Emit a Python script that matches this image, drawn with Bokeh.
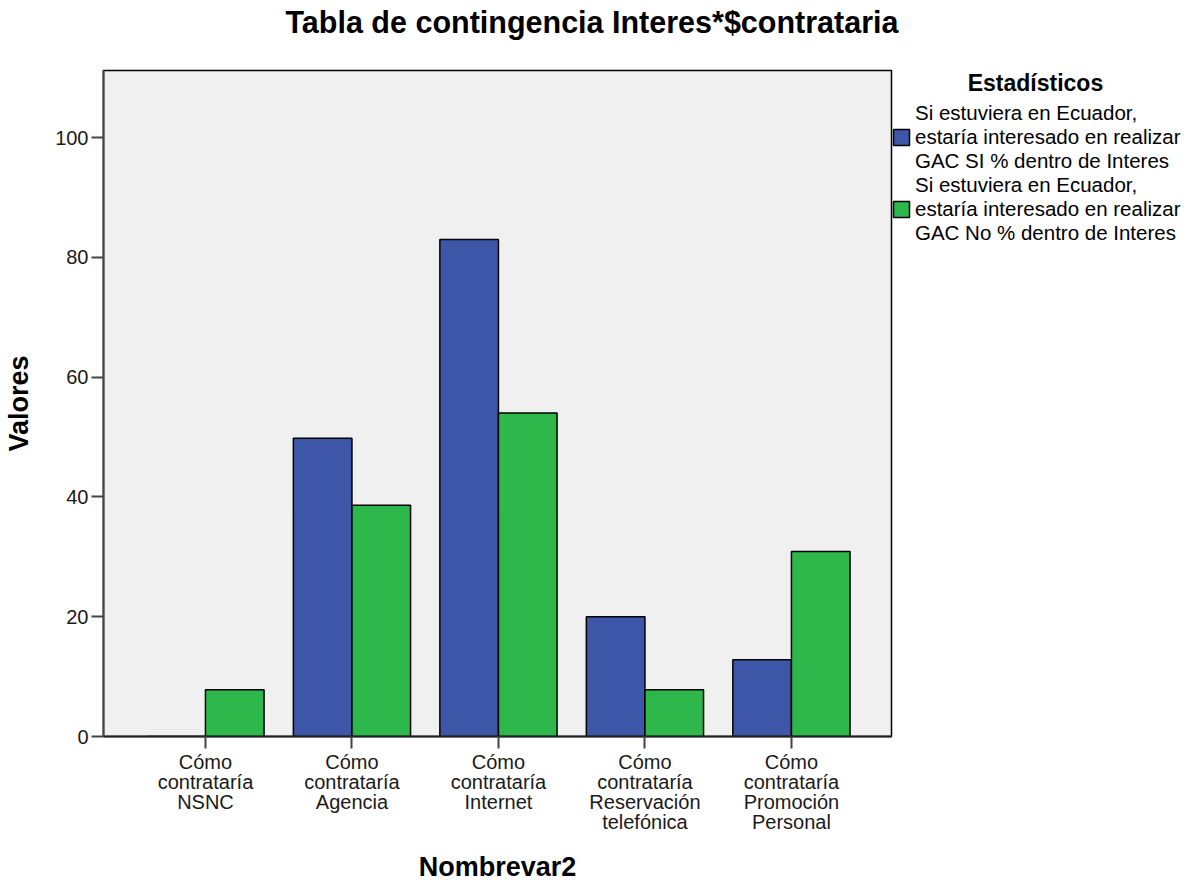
from bokeh.plotting import figure
from bokeh.models import Range1d, FixedTicker, Legend, LegendItem, ColumnDataSource, Title
from bokeh.transform import dodge
from bokeh.embed import file_html
from bokeh.resources import INLINE

categories = ["Cómo\ncontrataría\nNSNC",
              "Cómo\ncontrataría\nAgencia",
              "Cómo\ncontrataría\nInternet",
              "Cómo\ncontrataría\nReservación\ntelefónica",
              "Cómo\ncontrataría\nPromoción\nPersonal"]
si_values = [0.0, 49.8, 83.0, 20.0, 12.8]
no_values = [7.8, 38.6, 54.0, 7.8, 30.9]
series_names = ["Si estuviera en Ecuador,\nestaría interesado en realizar\nGAC SI % dentro de Interes",
                "Si estuviera en Ecuador,\nestaría interesado en realizar\nGAC No % dentro de Interes"]
legend_title = "Estadísticos"
y_ticks = [0, 20, 40, 60, 80, 100]

idx = list(range(len(categories)))
src = ColumnDataSource(dict(x=idx, si=si_values, no=no_values))

FONT = "Liberation Sans"
BLUE = "#3d56a8"
GREEN = "#2eb84b"

p = figure(frame_width=788, frame_height=666, output_backend="svg", toolbar_location=None,
           title=None,
           x_range=Range1d(-0.696, 4.683), y_range=Range1d(0, 111.2),
           min_border_left=103, min_border_top=70, min_border_bottom=130, min_border_right=0,
           background_fill_color="#f0f0f0", border_fill_color="white")

r1 = p.vbar(x=dodge("x", -0.2), top="si", width=0.4, source=src,
            fill_color=BLUE, line_color="black", line_width=1.5)
r2 = p.vbar(x=dodge("x", 0.2), top="no", width=0.4, source=src,
            fill_color=GREEN, line_color="black", line_width=1.5)

p.grid.visible = False
p.outline_line_color = "black"
p.outline_line_width = 1.5

# title (spacer first, so the real title sits higher)
p.add_layout(Title(text=" ", text_font_size="10px", standoff=17), "above")
p.add_layout(Title(text="Tabla de contingencia Interes*$contrataria", text_font=FONT,
                   text_font_size="30.5px", text_font_style="bold", text_color="black",
                   align="left", offset=182, standoff=4), "above")

# y axis
p.yaxis.ticker = FixedTicker(ticks=y_ticks)
p.yaxis.axis_label = "Valores"
p.yaxis.axis_label_text_font = FONT
p.yaxis.axis_label_text_font_size = "27px"
p.yaxis.axis_label_text_font_style = "bold"
p.yaxis.axis_label_text_color = "black"
p.yaxis.major_label_text_font = FONT
p.yaxis.major_label_text_font_size = "20px"
p.yaxis.major_label_text_color = "#1a1a1a"
p.yaxis.axis_line_width = 2
p.yaxis.axis_line_color = "#444444"
p.yaxis.major_tick_out = 12
p.yaxis.major_tick_in = 0
p.yaxis.minor_tick_out = 0
p.yaxis.minor_tick_in = 0
p.yaxis.major_tick_line_color = "#444444"
p.yaxis.major_tick_line_width = 2
p.yaxis.major_label_standoff = 3
p.yaxis.axis_label_standoff = 18

# x axis
p.xaxis.ticker = FixedTicker(ticks=idx)
p.xaxis.major_label_overrides = {i: c for i, c in zip(idx, categories)}
p.xaxis.axis_label = "Nombrevar2"
p.xaxis.axis_label_text_font = FONT
p.xaxis.axis_label_text_font_size = "27px"
p.xaxis.axis_label_text_font_style = "bold"
p.xaxis.axis_label_text_color = "black"
p.xaxis.major_label_text_font = FONT
p.xaxis.major_label_text_font_size = "20px"
p.xaxis.major_label_text_line_height = 0.92
p.xaxis.major_label_text_color = "#1a1a1a"
p.xaxis.axis_line_width = 2
p.xaxis.axis_line_color = "#222222"
p.xaxis.major_tick_out = 12
p.xaxis.major_tick_in = 0
p.xaxis.minor_tick_out = 0
p.xaxis.minor_tick_in = 0
p.xaxis.major_tick_line_color = "#444444"
p.xaxis.major_tick_line_width = 2
p.xaxis.major_label_standoff = 2
p.xaxis.axis_label_standoff = 16

legend = Legend(items=[LegendItem(label=series_names[0], renderers=[r1]),
                       LegendItem(label=series_names[1], renderers=[r2])],
                title="\u00a0" * 12 + legend_title,
                title_text_font=FONT, title_text_font_size="23px", title_text_font_style="bold",
                title_text_color="black", title_standoff=4,
                location="top_left",
                label_text_font=FONT, label_text_font_size="20.5px", label_text_line_height=0.8,
                label_text_color="black",
                glyph_width=20, glyph_height=20, label_standoff=4, spacing=-3,
                padding=0, margin=0, border_line_color=None, background_fill_alpha=0)
p.add_layout(legend, "right")

open("out.html", "w").write(file_html(p, INLINE))
